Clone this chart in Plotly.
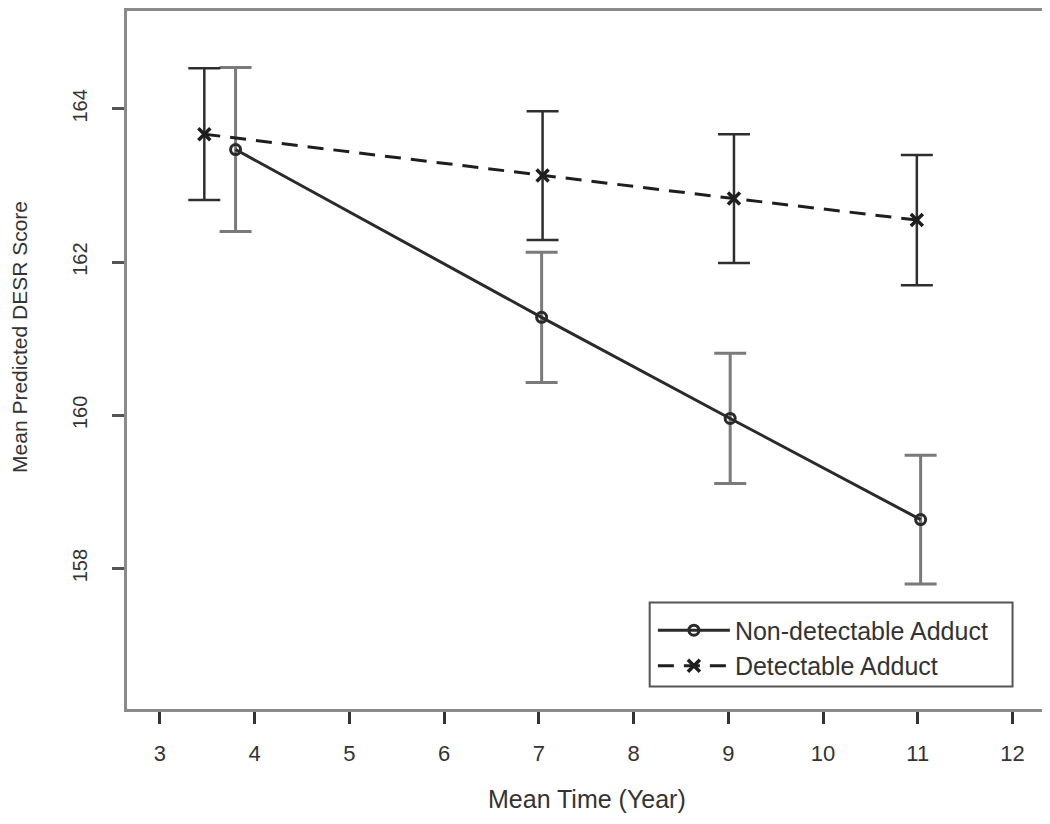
import plotly.graph_objects as go

# Data
nd_x = [3.80, 7.03, 9.02, 11.03]
nd_y = [163.47, 161.28, 159.96, 158.64]
nd_err = [1.07, 0.85, 0.85, 0.84]

d_x = [3.47, 7.04, 9.06, 10.99]
d_y = [163.67, 163.13, 162.83, 162.55]
d_err = [0.86, 0.84, 0.84, 0.85]

x_ticks = [3, 4, 5, 6, 7, 8, 9, 10, 11, 12]
y_ticks = [158, 160, 162, 164]

FONT = "Liberation Sans, Arial, sans-serif"
TXT = "#333333"

fig = go.Figure()

fig.add_trace(go.Scatter(
    x=nd_x, y=nd_y, mode="lines+markers", name="Non-detectable Adduct",
    line=dict(color="#2a2a2a", width=3),
    marker=dict(symbol="circle-open", size=10, color="#2a2a2a", line=dict(width=3)),
    error_y=dict(type="data", array=nd_err, visible=True, color="#7a7a7a",
                 thickness=3, width=16),
))

fig.add_trace(go.Scatter(
    x=d_x, y=d_y, mode="lines+markers", name="Detectable Adduct",
    line=dict(color="#1e1e1e", width=3, dash="16px,10px"),
    marker=dict(symbol="x-thin", size=12, color="#1e1e1e", line=dict(width=3.5, color="#1e1e1e")),
    error_y=dict(type="data", array=d_err, visible=True, color="#2e2e2e",
                 thickness=2.5, width=16),
))

fig.update_layout(
    width=1042, height=816,
    margin=dict(l=118.5, r=5.5, t=3, b=114.5),
    paper_bgcolor="white", plot_bgcolor="white",
    font=dict(family=FONT, color=TXT, size=20),
    showlegend=True,
    legend=dict(
        x=0.5735, y=0.1455, xanchor="left", yanchor="top",
        bgcolor="rgba(0,0,0,0)", borderwidth=0,
        font=dict(family=FONT, size=25, color=TXT),
        tracegroupgap=0, itemwidth=72,
    ),
    shapes=[dict(type="rect", xref="paper", yref="paper",
                 x0=0.570, x1=0.9657, y0=0.0322, y1=0.1525,
                 line=dict(color="#555555", width=2))],
    annotations=[
        dict(text="Mean Time (Year)", xref="paper", yref="paper",
             x=0.5016, y=-0.1296, xanchor="center", yanchor="middle",
             showarrow=False, font=dict(family=FONT, size=25, color=TXT)),
        dict(text="Mean Predicted DESR Score", xref="paper", yref="paper",
             x=-0.1165, y=0.5333, xanchor="center", yanchor="middle", textangle=-90,
             showarrow=False, font=dict(family=FONT, size=21, color=TXT)),
    ],
)

fig.update_xaxes(
    range=[2.654, 12.332], tickmode="array", tickvals=x_ticks,
    ticktext=[str(v) for v in x_ticks],
    showgrid=False, zeroline=False, automargin=False,
    showline=True, mirror=True, linecolor="#8a8a8a", linewidth=3,
    ticks="outside", ticklen=12, tickwidth=2.5, tickcolor="#333333",
    tickfont=dict(family=FONT, size=22, color=TXT),
    ticklabelstandoff=11,
)

fig.update_yaxes(
    range=[156.168, 165.278], tickmode="array", tickvals=y_ticks,
    ticktext=[str(v) for v in y_ticks],
    showgrid=False, zeroline=False, automargin=False,
    showline=True, mirror=True, linecolor="#8a8a8a", linewidth=3,
    ticks="outside", ticklen=12, tickwidth=2.5, tickcolor="#555555",
    tickangle=-90,
    tickfont=dict(family=FONT, size=20, color=TXT),
    ticklabelstandoff=17,
)

fig.write_html("out.html")
